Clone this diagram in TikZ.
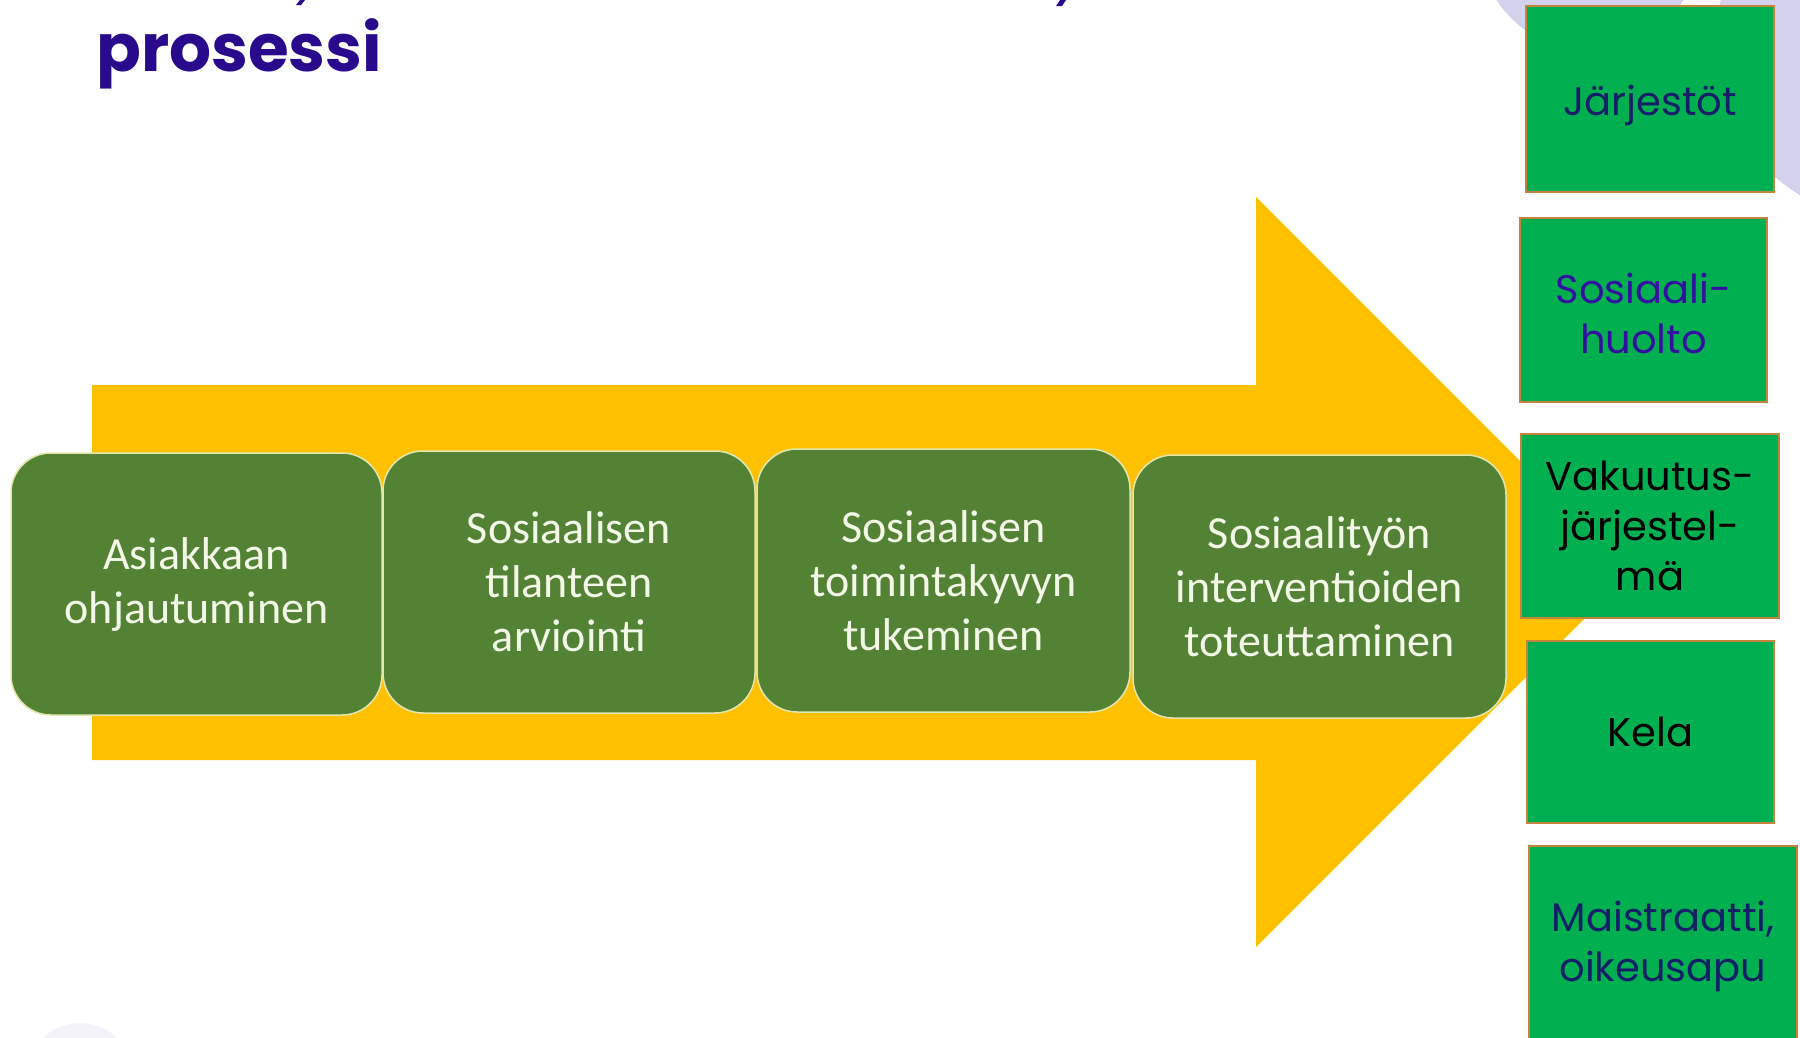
\documentclass[tikz,border=0pt]{standalone}
\usepackage{fontspec}
\setmainfont{Carlito}
\newfontfamily\geo{Poppins}
\definecolor{arrowy}{HTML}{FFC000}
\definecolor{pgreen}{HTML}{548235}
\definecolor{pline}{HTML}{E2E6B0}
\definecolor{ptext}{HTML}{F2F7E8}
\definecolor{rgreen}{HTML}{00B050}
\definecolor{rline}{HTML}{C4843E}
\definecolor{titlec}{HTML}{2A0A8C}
\definecolor{navy}{HTML}{132068}
\definecolor{violet}{HTML}{3410A0}
\definecolor{lav}{HTML}{D3D1EC}
\definecolor{lavlight}{HTML}{F3F3F9}
\tikzset{
  pbox/.style={draw=pline, line width=1.5pt, fill=pgreen, rounded corners=40pt,
    text=ptext, font=\fontsize{46}{54}\selectfont, align=center, inner sep=0pt},
  rbox/.style={draw=rline, line width=2.5pt, fill=rgreen,
    font=\geo\fontsize{40}{50}\selectfont, align=center, inner sep=0pt},
}
\begin{document}
\begin{tikzpicture}[x=1pt,y=-1pt]
\useasboundingbox (0,0) rectangle (1800,1037);
\fill[white] (0,0) rectangle (1800,1037);
% background decorations
\fill[lav] (1590,-60) circle[radius=111];
\fill[lav] (1890,45) circle[radius=175];
\fill[lavlight] (80,1076) circle[radius=53];
% cut-off fragments of the title line above
\fill[titlec] (296,5) -- (301,5) -- (305,0) -- (300,0) -- cycle;
\fill[titlec] (1056,6) -- (1062,6) -- (1066,0) -- (1060,0) -- cycle;
% title
\node[anchor=base west, font=\geo\bfseries\fontsize{66}{72}\selectfont, text=titlec, inner sep=0pt] (title) at (96,71) {prosessi};
% big arrow
\fill[arrowy] (92,385) -- (1256,385) -- (1256,197) -- (1631,572) -- (1256,947) -- (1256,760) -- (92,760) -- cycle;
% process boxes
\node[pbox, minimum width=371pt, minimum height=262pt] (p1) at (196.5,584) {Asiakkaan\\ohjautuminen};
\node[pbox, minimum width=372pt, minimum height=262pt] (p2) at (569,582) {Sosiaalisen\\tilanteen\\arviointi};
\node[pbox, minimum width=373pt, minimum height=263pt] (p3) at (943.5,580.5) {Sosiaalisen\\toimintakyvyn\\tukeminen};
\node[pbox, minimum width=373pt, minimum height=263pt] (p4) at (1319.5,586.5) {Sosiaalityön\\interventioiden\\toteuttaminen};
% right boxes
\node[rbox, text=navy, minimum width=248pt, minimum height=186pt] (r1) at (1650,99) {\raisebox{-6pt}[\height][\depth]{Järjestöt}};
\node[rbox, text=violet, minimum width=247pt, minimum height=184pt] (r2) at (1643.5,310) {\raisebox{-3pt}[\height][\depth]{Sosiaali-}\\\raisebox{-3pt}[\height][\depth]{huolto}};
\node[rbox, text=black, minimum width=258pt, minimum height=184pt] (r3) at (1650,526) {Vakuutus-\\järjestel-\\mä};
\node[rbox, text=black, minimum width=247pt, minimum height=182pt] (r4) at (1650.5,732) {Kela};
\node[rbox, text=navy, minimum width=268pt, minimum height=200pt] (r5) at (1663,946) {Maistraatti,\\oikeusapu};
\end{tikzpicture}
\end{document}
